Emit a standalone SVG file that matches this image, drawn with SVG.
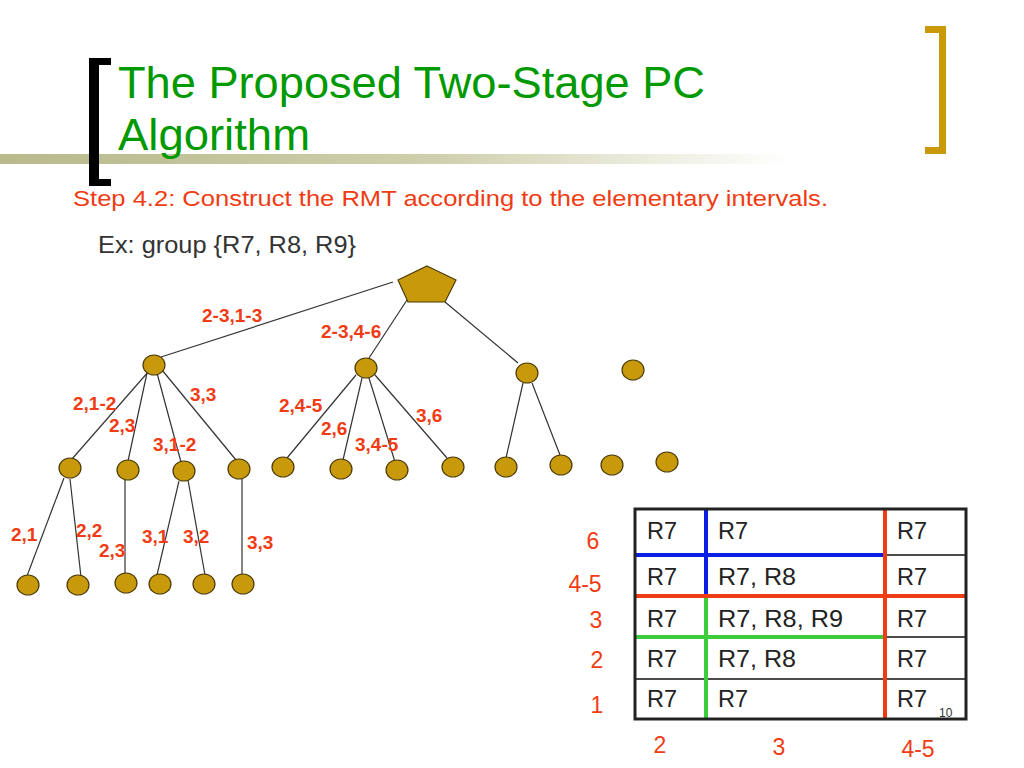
<svg xmlns="http://www.w3.org/2000/svg" width="1024" height="768" viewBox="0 0 1024 768">
<defs>
<linearGradient id="bar" x1="0" y1="0" x2="1" y2="0">
<stop offset="0" stop-color="#b9b98c"/>
<stop offset="0.55" stop-color="#cfcfad"/>
<stop offset="1" stop-color="#ffffff"/>
</linearGradient>
<style>
.node{fill:#c9990c;stroke:#4a3c08;stroke-width:1.2}
.edge{stroke:#333;stroke-width:1.2;fill:none}
.lbl{font-family:"Liberation Sans",Arial,sans-serif;font-weight:bold;font-size:19px;fill:#f03c14}
.axis{font-family:"Liberation Sans",Arial,sans-serif;font-size:23px;fill:#f03c14}
.cell{font-family:"Liberation Sans",Arial,sans-serif;font-size:23px;fill:#222}
.thin{stroke:#111;stroke-width:1.3}
</style>
</defs>
<rect width="1024" height="768" fill="#fff"/>
<rect x="0" y="154" width="790" height="10" fill="url(#bar)"/>
<g id="title">
<path d="M111 58 H89 V186 H111 V179 H99 V65 H111 Z" fill="#000"/>
<path d="M925 26 H946 V154 H925 V147 H939 V33 H925 Z" fill="#c9990a"/>
<text x="118" y="98" font-family="Liberation Sans,Arial,sans-serif" font-size="44" fill="#009900" textLength="587" lengthAdjust="spacingAndGlyphs">The Proposed Two-Stage PC</text>
<text x="118" y="150" font-family="Liberation Sans,Arial,sans-serif" font-size="44" fill="#009900" textLength="192" lengthAdjust="spacingAndGlyphs">Algorithm</text>
</g>
<text x="73" y="206" font-family="Liberation Sans,Arial,sans-serif" font-size="22.5" fill="#f03c14" textLength="755" lengthAdjust="spacingAndGlyphs">Step 4.2: Construct the RMT according to the elementary intervals.</text>
<text x="98" y="253" font-family="Liberation Sans,Arial,sans-serif" font-size="23" fill="#333" textLength="258" lengthAdjust="spacingAndGlyphs">Ex: group {R7, R8, R9}</text>

<g id="connectors">
<line class="edge" x1="393" y1="282" x2="161" y2="357"/>
<line class="edge" x1="407" y1="300" x2="369" y2="358"/>
<line class="edge" x1="445" y1="302" x2="518" y2="363"/>
<line class="edge" x1="149" y1="371" x2="72" y2="459"/>
<line class="edge" x1="147" y1="373" x2="128" y2="461"/>
<line class="edge" x1="157" y1="373" x2="181" y2="462"/>
<line class="edge" x1="162" y1="370" x2="236" y2="460"/>
<line class="edge" x1="64" y1="478" x2="27" y2="576"/>
<line class="edge" x1="70" y1="479" x2="81" y2="577"/>
<line class="edge" x1="125" y1="480" x2="125" y2="575"/>
<line class="edge" x1="179" y1="481" x2="157" y2="575"/>
<line class="edge" x1="188" y1="480" x2="205" y2="575"/>
<line class="edge" x1="242" y1="479" x2="242" y2="575"/>
<line class="edge" x1="356" y1="375" x2="287" y2="458"/>
<line class="edge" x1="362" y1="378" x2="343" y2="460"/>
<line class="edge" x1="369" y1="378" x2="395" y2="462"/>
<line class="edge" x1="375" y1="375" x2="447" y2="458"/>
<line class="edge" x1="523" y1="383" x2="506" y2="458"/>
<line class="edge" x1="532" y1="383" x2="560" y2="455"/>
<text class="lbl" x="202" y="322">2-3,1-3</text>
<text class="lbl" x="321" y="338">2-3,4-6</text>
<text class="lbl" x="73" y="410">2,1-2</text>
<text class="lbl" x="109" y="432">2,3</text>
<text class="lbl" x="190" y="401">3,3</text>
<text class="lbl" x="153" y="451">3,1-2</text>
<text class="lbl" x="279" y="412">2,4-5</text>
<text class="lbl" x="321" y="435">2,6</text>
<text class="lbl" x="355" y="451">3,4-5</text>
<text class="lbl" x="416" y="422">3,6</text>
<text class="lbl" x="11" y="541">2,1</text>
<text class="lbl" x="76" y="537">2,2</text>
<text class="lbl" x="99" y="557">2,3</text>
<text class="lbl" x="142" y="543">3,1</text>
<text class="lbl" x="183" y="543">3,2</text>
<text class="lbl" x="247" y="549">3,3</text>
</g>

<g id="root"><polygon class="node" points="427,266 456,280 445,302 408,302 398,280"/></g>
<g id="n1"><ellipse class="node" cx="154" cy="365" rx="11" ry="10"/></g>
<g id="n2"><ellipse class="node" cx="366" cy="368" rx="11" ry="10"/></g>
<g id="n3"><ellipse class="node" cx="527" cy="373" rx="11" ry="10"/></g>
<g id="n4"><ellipse class="node" cx="633" cy="370" rx="11" ry="10"/></g>
<g id="n11"><ellipse class="node" cx="70" cy="468" rx="11" ry="10"/></g>
<g id="n12"><ellipse class="node" cx="128" cy="470" rx="11" ry="10"/></g>
<g id="n13"><ellipse class="node" cx="184" cy="471" rx="11" ry="10"/></g>
<g id="n14"><ellipse class="node" cx="239" cy="469" rx="11" ry="10"/></g>
<g id="n21"><ellipse class="node" cx="283" cy="467" rx="11" ry="10"/></g>
<g id="n22"><ellipse class="node" cx="341" cy="469" rx="11" ry="10"/></g>
<g id="n23"><ellipse class="node" cx="397" cy="470" rx="11" ry="10"/></g>
<g id="n24"><ellipse class="node" cx="453" cy="467" rx="11" ry="10"/></g>
<g id="n31"><ellipse class="node" cx="506" cy="467" rx="11" ry="10"/></g>
<g id="n32"><ellipse class="node" cx="561" cy="465" rx="11" ry="10"/></g>
<g id="n41"><ellipse class="node" cx="612" cy="465" rx="11" ry="10"/></g>
<g id="n42"><ellipse class="node" cx="667" cy="462" rx="11" ry="10"/></g>
<g id="n111"><ellipse class="node" cx="28" cy="585" rx="11" ry="10"/></g>
<g id="n112"><ellipse class="node" cx="78" cy="585" rx="11" ry="10"/></g>
<g id="n121"><ellipse class="node" cx="126" cy="583" rx="11" ry="10"/></g>
<g id="n131"><ellipse class="node" cx="160" cy="584" rx="11" ry="10"/></g>
<g id="n132"><ellipse class="node" cx="204" cy="584" rx="11" ry="10"/></g>
<g id="n141"><ellipse class="node" cx="243" cy="584" rx="11" ry="10"/></g>

<g id="rmt">
<line class="thin" x1="885" y1="555" x2="966" y2="555"/>
<line class="thin" x1="885" y1="637" x2="966" y2="637"/>
<line class="thin" x1="635" y1="679" x2="966" y2="679"/>
<line x1="635" y1="555" x2="885" y2="555" stroke="#0a1ee6" stroke-width="4"/>
<line x1="706" y1="509" x2="706" y2="596" stroke="#0a1ee6" stroke-width="4"/>
<line x1="635" y1="637" x2="885" y2="637" stroke="#3ccc3c" stroke-width="4"/>
<line x1="706" y1="596" x2="706" y2="719" stroke="#3ccc3c" stroke-width="4"/>
<line x1="635" y1="596" x2="966" y2="596" stroke="#f03c14" stroke-width="4"/>
<line x1="885" y1="509" x2="885" y2="719" stroke="#f03c14" stroke-width="4"/>
<rect x="635" y="509" width="331" height="210" fill="none" stroke="#222" stroke-width="3"/>
<text class="cell" x="647" y="539" textLength="30" lengthAdjust="spacingAndGlyphs">R7</text>
<text class="cell" x="718" y="539" textLength="30" lengthAdjust="spacingAndGlyphs">R7</text>
<text class="cell" x="897" y="539" textLength="30" lengthAdjust="spacingAndGlyphs">R7</text>
<text class="cell" x="647" y="585" textLength="30" lengthAdjust="spacingAndGlyphs">R7</text>
<text class="cell" x="718" y="585" textLength="78" lengthAdjust="spacingAndGlyphs">R7, R8</text>
<text class="cell" x="897" y="585" textLength="30" lengthAdjust="spacingAndGlyphs">R7</text>
<text class="cell" x="647" y="627" textLength="30" lengthAdjust="spacingAndGlyphs">R7</text>
<text class="cell" x="718" y="627" textLength="125" lengthAdjust="spacingAndGlyphs">R7, R8, R9</text>
<text class="cell" x="897" y="627" textLength="30" lengthAdjust="spacingAndGlyphs">R7</text>
<text class="cell" x="647" y="667" textLength="30" lengthAdjust="spacingAndGlyphs">R7</text>
<text class="cell" x="718" y="667" textLength="78" lengthAdjust="spacingAndGlyphs">R7, R8</text>
<text class="cell" x="897" y="667" textLength="30" lengthAdjust="spacingAndGlyphs">R7</text>
<text class="cell" x="647" y="707" textLength="30" lengthAdjust="spacingAndGlyphs">R7</text>
<text class="cell" x="718" y="707" textLength="30" lengthAdjust="spacingAndGlyphs">R7</text>
<text class="cell" x="897" y="707" textLength="30" lengthAdjust="spacingAndGlyphs">R7</text>
<text x="939" y="717" font-family="Liberation Sans,Arial,sans-serif" font-size="12" fill="#333">10</text>
<text class="axis" x="593" y="549" text-anchor="middle">6</text>
<text class="axis" x="585" y="592" text-anchor="middle">4-5</text>
<text class="axis" x="596" y="628" text-anchor="middle">3</text>
<text class="axis" x="597" y="668" text-anchor="middle">2</text>
<text class="axis" x="597" y="713" text-anchor="middle">1</text>
<text class="axis" x="660" y="753" text-anchor="middle">2</text>
<text class="axis" x="779" y="755" text-anchor="middle">3</text>
<text class="axis" x="918" y="757" text-anchor="middle">4-5</text>
</g>
</svg>
